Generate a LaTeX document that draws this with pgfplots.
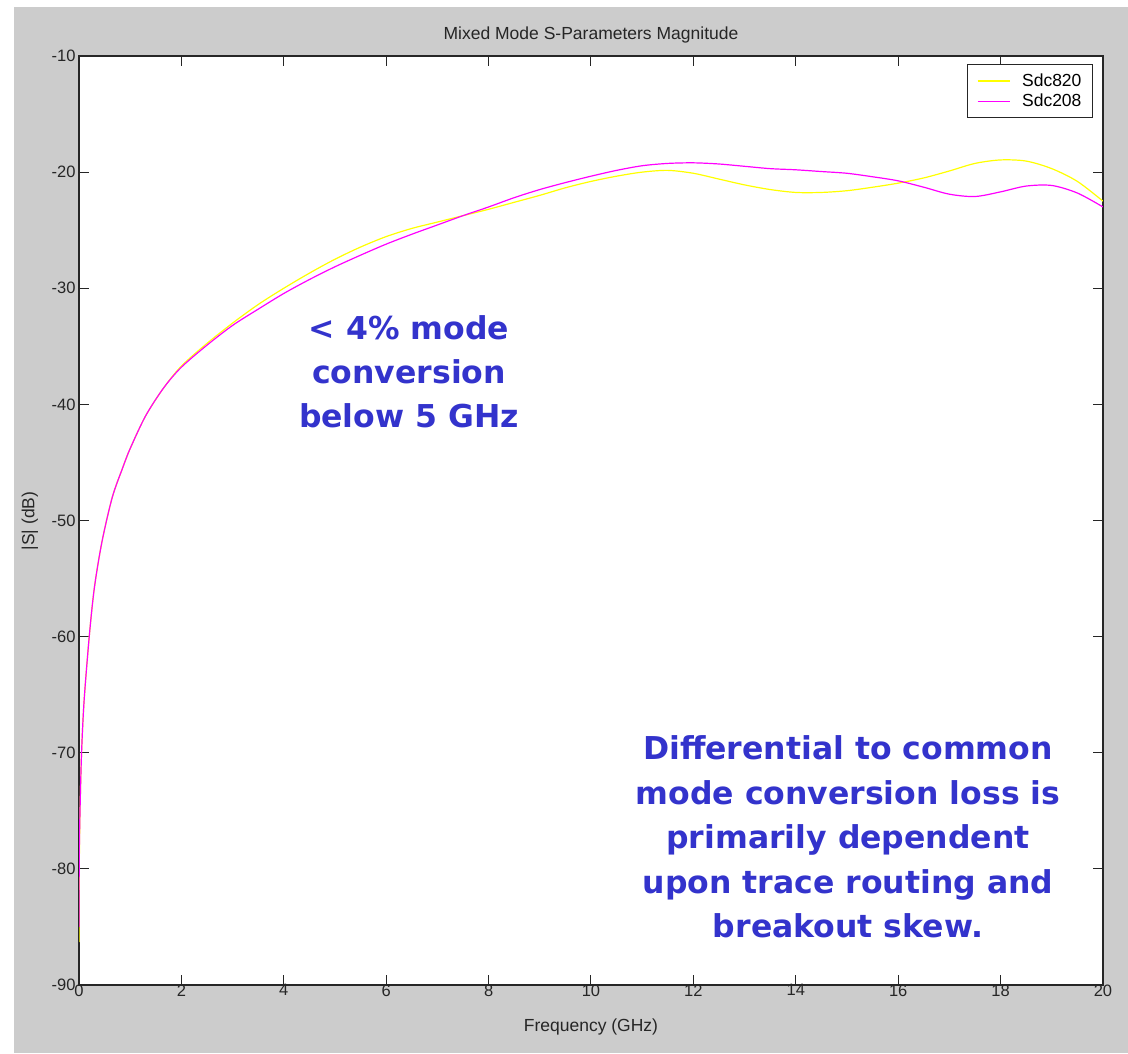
\documentclass[border=0pt]{standalone}
\usepackage{pgfplots}
\pgfplotsset{compat=1.18}
\usepackage{pgfplotstable}
\usepackage{fontspec}
\setmainfont{Liberation Sans}
\newfontfamily\annfont{DejaVu Sans}
\definecolor{figgray}{RGB}{204,204,204}
\definecolor{annblue}{RGB}{51,51,204}
\pgfplotstableread{
f y820 y208
0 -86.3 -85.0
0.005 -80 -79
0.02 -75 -75
0.05 -70 -70
0.1 -65.5 -65.5
0.2 -60 -60
0.3 -55.8 -55.8
0.45 -51.8 -51.8
0.65 -48 -48
0.85 -45.5 -45.5
1.0 -43.8 -43.8
1.3 -41 -41
1.65 -38.6 -38.6
2.0 -36.7 -36.8
2.5 -34.75 -34.9
3.0 -33.0 -33.2
3.5 -31.4 -31.8
4.0 -30.0 -30.45
4.5 -28.7 -29.25
5.0 -27.5 -28.15
5.5 -26.45 -27.15
6.0 -25.55 -26.2
6.5 -24.85 -25.35
7.0 -24.3 -24.55
7.5 -23.75 -23.75
8.0 -23.2 -23.0
8.5 -22.6 -22.2
9.0 -22.0 -21.5
9.5 -21.35 -20.9
10 -20.8 -20.35
10.5 -20.35 -19.85
11 -20.0 -19.45
11.5 -19.85 -19.25
12 -20.1 -19.2
12.5 -20.6 -19.3
13 -21.1 -19.5
13.5 -21.5 -19.7
14 -21.75 -19.8
14.5 -21.75 -19.95
15 -21.6 -20.1
15.5 -21.3 -20.4
16 -20.95 -20.75
16.5 -20.5 -21.3
17 -19.9 -21.9
17.5 -19.25 -22.1
18 -18.95 -21.7
18.5 -19.05 -21.2
19 -19.7 -21.15
19.5 -20.8 -21.8
20 -22.5 -23.0
}\datatable
\begin{document}
\begin{tikzpicture}
\fill[white] (0pt,0pt) rectangle (1128pt,1053pt);
\fill[figgray] (14pt,0pt) rectangle (1128pt,1046pt);
\path[use as bounding box] (0pt,0pt) rectangle (1128pt,1053pt);
\begin{axis}[
  at={(79pt,68pt)}, anchor=south west,
  scale only axis, width=1024pt, height=929pt,
  xmin=0, xmax=20, ymin=-90, ymax=-10,
  xtick={0,2,...,20}, ytick={-90,-80,...,-10},
  axis background/.style={fill=white},
  axis line style={line width=1.2pt, color=black!85},
  major tick length=10pt, tick align=inside,
  tick style={black!85, line width=1pt},
  tick label style={font=\fontsize{16.5}{18}\selectfont, text=black!85},
  xticklabel style={yshift=4pt},
  /pgf/number format/assume math mode=true,
  legend cell align=left,
  legend style={at={(0.9902,0.9914)}, anchor=north east,
    font=\fontsize{17.5}{20}\selectfont, draw=black!85, line width=1pt,
    inner xsep=9pt, inner ysep=7.5pt, row sep=2pt},
  legend image code/.code={\draw[#1, line width=1.3pt] (0pt,0pt) -- (32pt,0pt); \path (42pt,0pt);},
]
\addplot[color={rgb,1:red,1;green,1;blue,0}, line width=1.2pt, smooth] table[x=f, y=y820] {\datatable};
\addlegendentry{Sdc820\hspace{5pt}}
\addplot[color={rgb,1:red,1;green,0;blue,1}, line width=1.2pt, smooth] table[x=f, y=y208] {\datatable};
\addlegendentry{Sdc208\hspace{5pt}}
\end{axis}
\node[anchor=base, font=\fontsize{17.5}{20}\selectfont, text=black!85] at (591pt,1013pt) {Mixed Mode S-Parameters Magnitude};
\node[anchor=base, font=\fontsize{17.5}{20}\selectfont, text=black!85] at (591pt,21pt) {Frequency (GHz)};
\node[rotate=90, font=\fontsize{17.5}{20}\selectfont, text=black!85] at (30pt,532pt) {|S| (dB)};
\begin{scope}[every node/.style={anchor=base, text=annblue, font=\annfont\bfseries\fontsize{31.5}{40}\selectfont, inner sep=0pt}]
\node at (409pt,713pt) {< 4\% mode};
\node at (409pt,669pt) {conversion};
\node at (409pt,625pt) {below 5 GHz};
\node at (848pt,293pt) {Differential to common};
\node at (848pt,248.5pt) {mode conversion loss is};
\node at (848pt,204pt) {primarily dependent};
\node at (848pt,159.5pt) {upon trace routing and};
\node at (848pt,115pt) {breakout skew.};
\end{scope}
\end{tikzpicture}
\end{document}
